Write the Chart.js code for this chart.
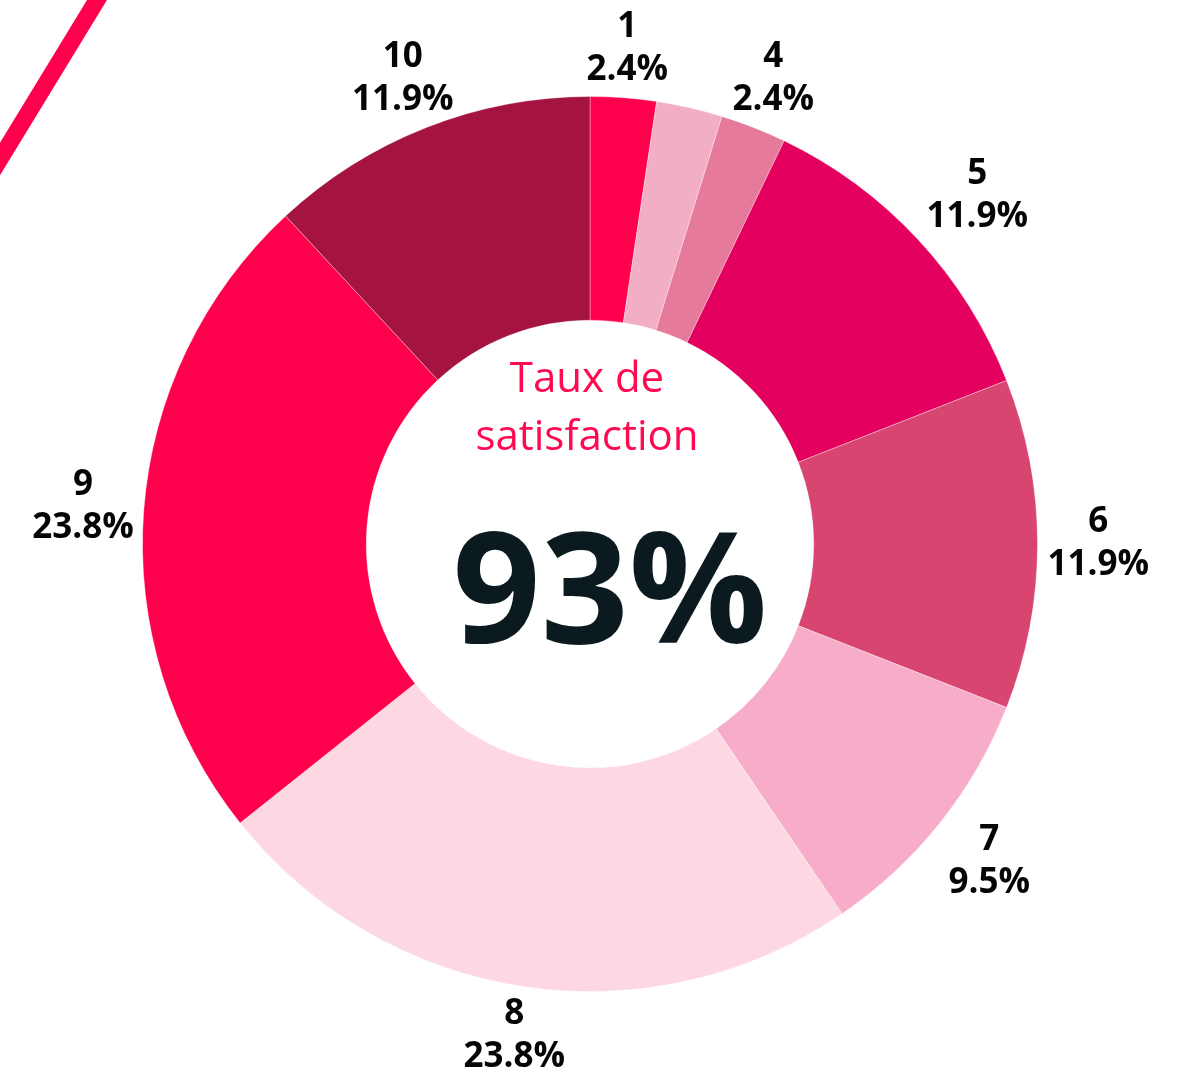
<!DOCTYPE html>
<html>
<head>
<meta charset="utf-8">
<script src="https://cdn.jsdelivr.net/npm/chart.js@4/dist/chart.umd.min.js"></script>
<style>
  html, body { margin: 0; padding: 0; background: #ffffff; }
  #wrap { position: relative; width: 1195px; height: 1071px; overflow: hidden; }
  canvas { display: block; }
</style>
</head>
<body>
<div id="wrap"><canvas id="c" width="1195" height="1071"></canvas></div>
<script>
// ---- data ----
const categories = ['1', '3', '4', '5', '6', '7', '8', '9', '10'];
const responses = [1, 1, 1, 5, 5, 4, 10, 10, 5];
const sliceColors = ['#FF004C', '#F2AEC4', '#E67A9A', '#E3005E', '#D74570', '#F7ADC9', '#FDD8E2', '#FF004C', '#A51440'];
const centerTitle = ['Taux de', 'satisfaction'];
const centerValue = '93%';

const total = responses.reduce((a, b) => a + b, 0);
const pctLabels = responses.map(v => (v / total * 100).toFixed(1) + '%');

const FONT = '"Open Sans", "Liberation Sans", sans-serif';

// decoration line in top-left corner
const cornerLine = {
  id: 'cornerLine',
  beforeDraw(chart) {
    const ctx = chart.ctx;
    ctx.save();
    ctx.strokeStyle = '#FF004C';
    ctx.lineWidth = 17;
    ctx.lineCap = 'butt';
    ctx.beginPath();
    ctx.moveTo(97 + 97 * 0.3, -159 * 0.3);
    ctx.lineTo(-97 * 0.3, 159 * 1.3);
    ctx.stroke();
    ctx.restore();
  }
};

// outside labels (datalabels-like, anchor end / align end)
const outsideLabels = {
  id: 'outsideLabels',
  afterDatasetsDraw(chart) {
    const ctx = chart.ctx;
    const meta = chart.getDatasetMeta(0);
    const size = 35, lh = 43, padX = 4, padY = 0, offset = 6;
    ctx.save();
    ctx.font = 'bold ' + size + 'px ' + FONT;
    ctx.fillStyle = '#050505';
    ctx.textAlign = 'center';
    ctx.textBaseline = 'middle';
    const placed = [];
    meta.data.forEach((arc, i) => {
      const p = arc.getProps(['x', 'y', 'startAngle', 'endAngle', 'outerRadius'], true);
      const mid = (p.startAngle + p.endAngle) / 2;
      const vx = Math.cos(mid), vy = Math.sin(mid);
      const px = p.x + vx * p.outerRadius, py = p.y + vy * p.outerRadius;
      const lines = [categories[i], pctLabels[i]];
      const tw = Math.max(...lines.map(t => ctx.measureText(t).width));
      const w = tw + padX * 2, h = lines.length * lh + padY * 2;
      const vs = 1 / Math.max(Math.abs(vx), Math.abs(vy));
      const cx = px + (w / 2) * vx * vs + offset * vx;
      const cy = py + (h / 2) * vy * vs + offset * vy;
      const box = { l: cx - w / 2, r: cx + w / 2, t: cy - h / 2, b: cy + h / 2 };
      const hit = placed.some(q => !(box.r < q.l || box.l > q.r || box.b < q.t || box.t > q.b));
      if (hit) return;
      placed.push(box);
      lines.forEach((t, k) => {
        ctx.fillText(t, cx, box.t + padY + lh / 2 + k * lh);
      });
    });
    ctx.restore();
  }
};

// centre text
const centerText = {
  id: 'centerText',
  afterDraw(chart) {
    const ctx = chart.ctx;
    const meta = chart.getDatasetMeta(0);
    const arc = meta.data[0];
    const cx = arc.x, cy = arc.y;
    ctx.save();
    ctx.textAlign = 'center';
    ctx.textBaseline = 'alphabetic';
    ctx.fillStyle = '#FF0A50';
    ctx.font = '42px ' + FONT;
    ctx.fillText(centerTitle[0], cx - 3, cy - 152);
    ctx.fillText(centerTitle[1], cx - 3, cy - 94);
    ctx.fillStyle = '#0B1A1F';
    ctx.font = 'bold 154px ' + FONT;
    ctx.fillText(centerValue, cx + 20, cy + 99);
    ctx.restore();
  }
};

function build() {
  new Chart(document.getElementById('c'), {
    type: 'doughnut',
    data: {
      labels: categories,
      datasets: [{
        data: responses,
        backgroundColor: sliceColors,
        borderColor: 'rgba(255,255,255,0.35)',
        borderWidth: 1
      }]
    },
    options: {
      responsive: false,
      animation: false,
      cutout: '50%',
      layout: { padding: { left: 142, right: 157, top: 96, bottom: 79 } },
      plugins: {
        legend: { display: false },
        tooltip: { enabled: false }
      }
    },
    plugins: [cornerLine, outsideLabels, centerText]
  });
}

Promise.all([
  document.fonts.load('bold 35px "Open Sans"'),
  document.fonts.load('bold 154px "Open Sans"'),
  document.fonts.load('42px "Open Sans"')
]).then(build, build);
</script>
</body>
</html>
